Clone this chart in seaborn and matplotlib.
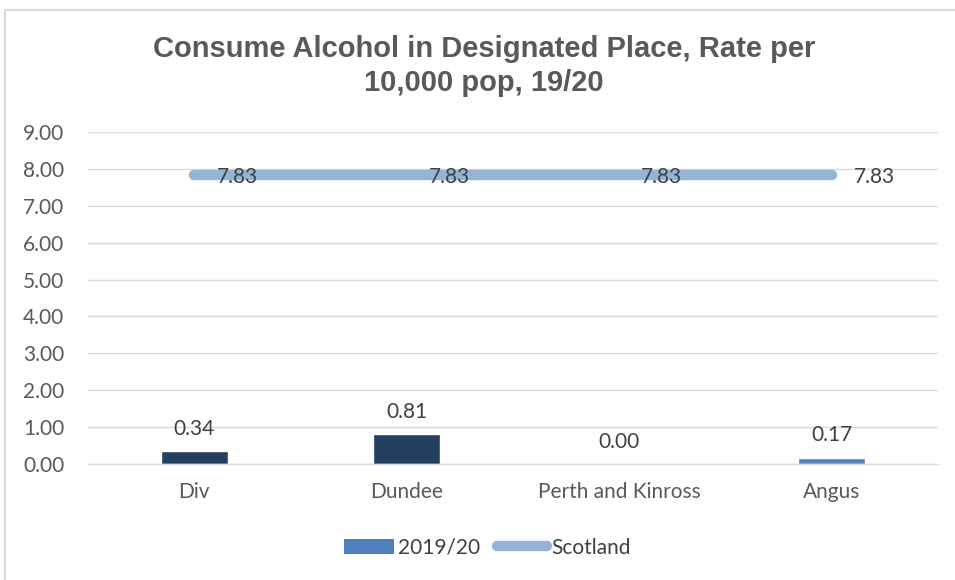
import matplotlib
matplotlib.use("Agg")
import matplotlib.pyplot as plt
import seaborn as sns
import pandas as pd
from matplotlib.lines import Line2D
from matplotlib.patches import Patch

categories = ["Div", "Dundee", "Perth and Kinross", "Angus"]
rate_2019_20 = [0.34, 0.81, 0.00, 0.17]
scotland = [7.83, 7.83, 7.83, 7.83]
yticks = [0, 1, 2, 3, 4, 5, 6, 7, 8, 9]
title = "Consume Alcohol in Designated Place, Rate per\n10,000 pop, 19/20"

bar_colors = ["#243F60", "#243F60", "#243F60", "#4F81BD"]
line_color = "#95B3D7"
text_color = "#595959"
label_color = "#404040"

sns.set_theme(style="white")
plt.rcParams["font.family"] = ["Lato", "DejaVu Sans"]

df = pd.DataFrame({"cat": categories, "val": rate_2019_20, "scot": scotland})

fig = plt.figure(figsize=(9.55, 5.8), dpi=100)
ax = fig.add_axes([0.0921, 0.2, 0.8899, 0.5724])

sns.barplot(data=df, x="cat", y="val", hue="cat", palette=bar_colors,
            width=0.315, legend=False, ax=ax, saturation=1)
sns.lineplot(x=list(range(len(categories))), y=df["scot"], ax=ax, color=line_color,
             linewidth=7.5, solid_capstyle="round", zorder=3)

ax.set_xlim(-0.5, len(categories) - 0.5)
ax.set_ylim(0, 9)
ax.set_yticks(yticks)
ax.set_yticklabels([f"{v:.2f}" for v in yticks])
ax.grid(axis="y", color="#D9D9D9", linewidth=1)
ax.set_axisbelow(True)
for s in ["left", "right", "top"]:
    ax.spines[s].set_visible(False)
ax.spines["bottom"].set_color("#D9D9D9")
ax.spines["bottom"].set_linewidth(1)
ax.set_xlabel("")
ax.set_ylabel("")
ax.tick_params(axis="both", colors=text_color, labelsize=15, length=0)
ax.tick_params(axis="x", pad=13)
ax.tick_params(axis="y", pad=17)
for lbl in ax.get_xticklabels() + ax.get_yticklabels():
    lbl.set_color(text_color)

for i, v in enumerate(rate_2019_20):
    ax.annotate(f"{v:.2f}", (i, v), xytext=(0, 9), textcoords="offset points",
                ha="center", va="bottom", fontsize=15, color=label_color)
for i, v in enumerate(scotland):
    ax.annotate(f"{v:.2f}", (i, v), xytext=(16, -1), textcoords="offset points",
                ha="left", va="center", fontsize=15, color=label_color, zorder=4)

fig.text(0.507, 0.886, title, ha="center", va="center", fontsize=21,
         fontweight="bold", color=text_color, family=["Liberation Sans", "DejaVu Sans"],
         linespacing=1.25)

handles = [Patch(facecolor="#4F81BD", edgecolor="none"),
           Line2D([0], [0], color=line_color, linewidth=7.5, solid_capstyle="round")]
fig.legend(handles, ["2019/20", "Scotland"], loc="center", bbox_to_anchor=(0.51, 0.056),
           ncol=2, frameon=False, fontsize=15, labelcolor=label_color,
           handlelength=2.4, handletextpad=0.2, columnspacing=0.8)

fig.add_artist(Line2D([0.005, 0.005], [0, 0.983], transform=fig.transFigure,
                      color="#D9D9D9", linewidth=1.5))
fig.add_artist(Line2D([0.005, 1.0], [0.983, 0.983], transform=fig.transFigure,
                      color="#D9D9D9", linewidth=1.5))

fig.savefig("out.png", dpi=100)
